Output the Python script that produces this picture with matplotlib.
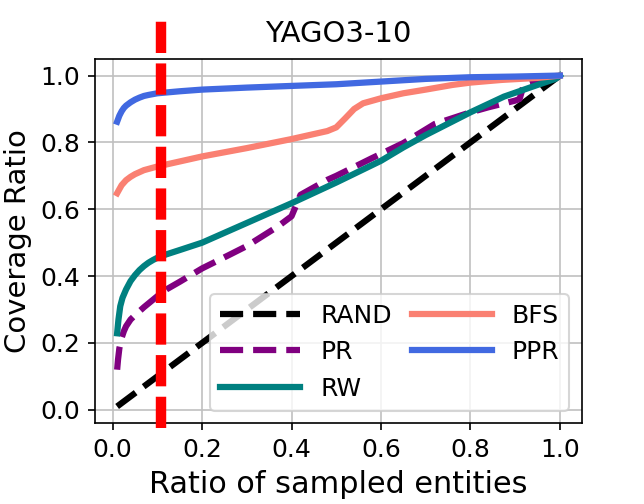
import matplotlib
matplotlib.use('Agg')
import matplotlib.pyplot as plt

plt.rcParams['font.family'] = 'DejaVu Sans'

# Coverage curves
rand_x = [0.01, 1.0]
rand_y = [0.01, 1.0]

pr_x = [0.01, 0.012, 0.015, 0.02, 0.025, 0.03, 0.04, 0.05, 0.06, 0.07, 0.08, 0.1, 0.12,
        0.15, 0.2, 0.26, 0.3, 0.37, 0.4, 0.42, 0.48, 0.5, 0.58, 0.65, 0.72, 0.8, 0.84,
        0.9, 0.91, 0.92, 0.95, 1.0]
pr_y = [0.12, 0.15, 0.184, 0.215, 0.235, 0.25, 0.27, 0.283, 0.295, 0.307, 0.318, 0.34, 0.36,
        0.383, 0.423, 0.463, 0.49, 0.549, 0.579, 0.643, 0.688, 0.70, 0.753, 0.798, 0.855,
        0.89, 0.905, 0.925, 0.93, 0.975, 0.987, 1.0]

rw_x = [0.01, 0.013, 0.017, 0.022, 0.03, 0.04, 0.05, 0.06, 0.07, 0.08, 0.09, 0.1, 0.12,
        0.15, 0.2, 0.3, 0.4, 0.5, 0.6, 0.65, 0.7, 0.8, 0.875, 0.95, 0.99, 1.0]
rw_y = [0.229, 0.27, 0.31, 0.335, 0.36, 0.385, 0.403, 0.418, 0.43, 0.44, 0.448, 0.455, 0.465,
        0.478, 0.50, 0.559, 0.618, 0.68, 0.745, 0.785, 0.822, 0.89, 0.937, 0.972, 0.99, 1.0]

bfs_x = [0.01, 0.015, 0.02, 0.03, 0.04, 0.05, 0.07, 0.1, 0.15, 0.2, 0.3, 0.4, 0.48, 0.5,
         0.52, 0.54, 0.56, 0.6, 0.65, 0.7, 0.76, 0.8, 0.87, 0.95, 1.0]
bfs_y = [0.648, 0.66, 0.672, 0.687, 0.697, 0.705, 0.717, 0.728, 0.743, 0.758, 0.783, 0.81,
         0.834, 0.845, 0.872, 0.9, 0.917, 0.932, 0.947, 0.958, 0.972, 0.979, 0.987, 0.993, 1.0]

ppr_x = [0.01, 0.015, 0.02, 0.025, 0.03, 0.04, 0.05, 0.06, 0.07, 0.08, 0.1, 0.15, 0.2,
         0.3, 0.4, 0.5, 0.6, 0.7, 0.8, 0.9, 1.0]
ppr_y = [0.862, 0.88, 0.893, 0.903, 0.91, 0.92, 0.928, 0.934, 0.939, 0.942, 0.947, 0.953,
         0.958, 0.964, 0.969, 0.974, 0.982, 0.99, 0.995, 0.997, 1.0]

marker_x = 0.108

fig = plt.figure(figsize=(644 / 150, 504 / 150), dpi=150)
fig.patch.set_facecolor('white')
ax = fig.add_axes([0.1475, 0.1607, 0.7562, 0.7222])

style = dict(linewidth=3, solid_joinstyle='round', dash_joinstyle='round')
ax.plot(rand_x, rand_y, '--', color='black', label='RAND', **style)
ax.plot(pr_x, pr_y, '--', color='purple', label='PR', **style)
ax.plot(rw_x, rw_y, '-', color='teal', label='RW', **style)
ax.plot(bfs_x, bfs_y, '-', color='salmon', label='BFS', **style)
ax.plot(ppr_x, ppr_y, '-', color='royalblue', label='PPR', **style)

ax.axvline(marker_x, ymin=-0.013, ymax=1.127, color='red', linewidth=5,
           dashes=(3, 1), clip_on=False, zorder=5)

ax.set_title('YAGO3-10', fontsize=14, pad=8)
ax.set_xlabel('Ratio of sampled entities', fontsize=14.5)
ax.set_ylabel('Coverage Ratio', fontsize=14)
ax.tick_params(labelsize=12)
ax.set_xticks([0.0, 0.2, 0.4, 0.6, 0.8, 1.0])
ax.set_yticks([0.0, 0.2, 0.4, 0.6, 0.8, 1.0])
ax.grid(True, color='#c0c0c0', linewidth=0.8)
ax.legend(loc='lower right', ncol=2, fontsize=12, handlelength=3.2,
          handletextpad=0.8, columnspacing=0.8)

plt.savefig('out.png', dpi=150, facecolor='white')
plt.close()
